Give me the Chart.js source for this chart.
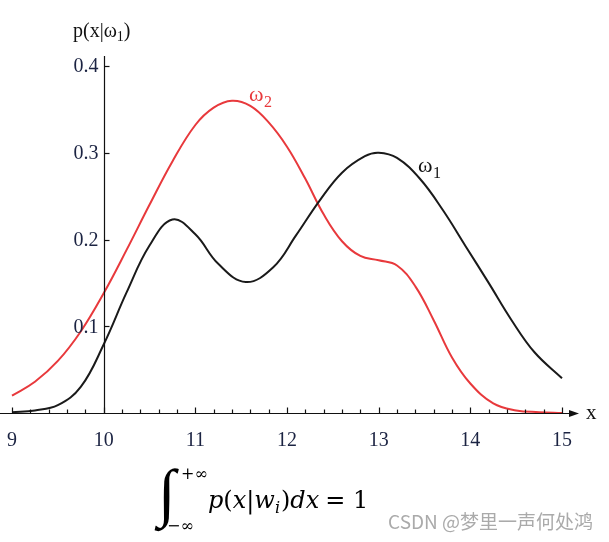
<!DOCTYPE html>
<html>
<head>
<meta charset="utf-8">
<script src="https://cdn.jsdelivr.net/npm/chart.js@4.4.0/dist/chart.umd.min.js"></script>
<style>
html,body{margin:0;padding:0;background:#fff;}
#wrap{width:609px;height:542px;}
</style>
</head>
<body>
<div id="wrap"><canvas id="c" width="609" height="542"></canvas></div>
<script>
// ---- data ----
const omega1X = [9.0, 9.25, 9.5, 9.75, 10.0, 10.25, 10.5, 10.75, 11.0, 11.25, 11.55, 11.85, 12.1, 12.35, 12.6, 12.85, 13.0, 13.2, 13.45, 13.7, 13.95, 14.2, 14.45, 14.7, 15.0];
const omega1Y = [0.001, 0.003, 0.009, 0.030, 0.079, 0.139, 0.193, 0.223, 0.206, 0.172, 0.151, 0.168, 0.205, 0.244, 0.277, 0.296, 0.300, 0.294, 0.270, 0.234, 0.192, 0.150, 0.107, 0.070, 0.040];
const omega2X = [9.0, 9.25, 9.5, 9.75, 10.0, 10.25, 10.5, 10.75, 11.0, 11.2, 11.4, 11.6, 11.8, 12.0, 12.2, 12.4, 12.6, 12.8, 13.0, 13.2, 13.4, 13.6, 13.8, 14.0, 14.25, 14.5, 14.75, 15.0];
const omega2Y = [0.020, 0.036, 0.060, 0.094, 0.138, 0.188, 0.240, 0.290, 0.332, 0.352, 0.360, 0.354, 0.335, 0.307, 0.270, 0.229, 0.198, 0.181, 0.176, 0.170, 0.146, 0.107, 0.064, 0.034, 0.011, 0.003, 0.001, 0.0];
const xTickValues = [9, 10, 11, 12, 13, 14, 15];
const xTickLabels = ['9', '10', '11', '12', '13', '14', '15'];
const yTickValues = [0.1, 0.2, 0.3, 0.4];
const yTickLabels = ['0.1', '0.2', '0.3', '0.4'];
const yAxisAt = 10;

function toPoints(xs, ys){ return xs.map((x,i)=>({x:x, y:ys[i]})); }

const TICK_COLOR = '#1b2342';
const SERIF = '"Liberation Serif", "DejaVu Serif", serif';
const MATH = '"DejaVu Serif", serif';

const axesPlugin = {
  id: 'mathAxes',
  afterDraw(chart){
    const ctx = chart.ctx;
    const xs = chart.scales.x, ys = chart.scales.y;
    const y0 = Math.round(ys.getPixelForValue(0)) + 0.5;
    const xA = Math.round(xs.getPixelForValue(yAxisAt)) + 0.5;
    ctx.save();
    ctx.strokeStyle = '#111';
    ctx.fillStyle = '#111';
    ctx.lineWidth = 1.2;
    // x axis line with arrow
    const xEnd = xs.getPixelForValue(15) + 15;
    ctx.beginPath(); ctx.moveTo(0, y0); ctx.lineTo(xEnd - 6, y0); ctx.stroke();
    ctx.beginPath(); ctx.moveTo(xEnd + 2, y0); ctx.lineTo(xEnd - 8, y0 - 3.5); ctx.lineTo(xEnd - 8, y0 + 3.5); ctx.closePath(); ctx.fill();
    // x minor/major ticks
    for (let k = 0; k <= 30; k++){
      const v = 9 + k * 0.2;
      const px = Math.round(xs.getPixelForValue(v)) + 0.5;
      const len = (k % 5 === 0) ? 6 : 4;
      ctx.beginPath(); ctx.moveTo(px, y0); ctx.lineTo(px, y0 - len); ctx.stroke();
    }
    // y axis line
    const yTop = ys.getPixelForValue(0.4115);
    ctx.beginPath(); ctx.moveTo(xA, y0); ctx.lineTo(xA, yTop); ctx.stroke();
    // y ticks
    yTickValues.forEach(v => {
      const py = Math.round(ys.getPixelForValue(v)) + 0.5;
      ctx.beginPath(); ctx.moveTo(xA, py); ctx.lineTo(xA + 5, py); ctx.stroke();
    });
    // tick labels
    ctx.fillStyle = TICK_COLOR;
    ctx.font = '20px ' + SERIF;
    ctx.textAlign = 'center'; ctx.textBaseline = 'alphabetic';
    xTickValues.forEach((v, i) => {
      ctx.fillText(xTickLabels[i], xs.getPixelForValue(v), y0 + 32);
    });
    ctx.textAlign = 'right'; ctx.textBaseline = 'middle';
    yTickValues.forEach((v, i) => {
      ctx.fillText(yTickLabels[i], xA - 6, ys.getPixelForValue(v) + 1);
    });
    // axis titles
    ctx.fillStyle = '#111';
    ctx.textAlign = 'left'; ctx.textBaseline = 'alphabetic';
    ctx.font = '21px ' + SERIF;
    ctx.fillText('x', xEnd + 9, y0 + 5);
    // y title p(x|ω1)
    let tx = 73; const tb = 37;
    ctx.font = '20px ' + SERIF;
    ctx.fillText('p(x|ω', tx, tb); tx += ctx.measureText('p(x|ω').width;
    ctx.font = '14px ' + SERIF;
    ctx.fillText('1', tx, tb + 4); tx += ctx.measureText('1').width;
    ctx.font = '20px ' + SERIF;
    ctx.fillText(')', tx, tb);
    // curve labels
    ctx.fillStyle = '#e8393c';
    ctx.font = '22px ' + SERIF;
    ctx.fillText('ω', 249, 101);
    ctx.font = '16px ' + SERIF;
    ctx.fillText('2', 264, 107);
    ctx.fillStyle = '#111';
    ctx.font = '22px ' + SERIF;
    ctx.fillText('ω', 418, 172);
    ctx.font = '16px ' + SERIF;
    ctx.fillText('1', 433, 178);
    // formula
    ctx.fillStyle = '#000';
    ctx.font = 'italic 64px "Liberation Serif", serif';
    ctx.fillText('∫', 158, 514);
    ctx.font = '16px ' + MATH;
    ctx.fillText('+∞', 181, 479);
    ctx.fillText('−∞', 167, 531);
    let fx = 208; const fb = 508;
    const FS = 24;
    ctx.font = 'italic ' + FS + 'px ' + MATH;
    ctx.fillText('p', fx, fb); fx += ctx.measureText('p').width;
    ctx.font = FS + 'px ' + MATH;
    ctx.fillText('(', fx, fb); fx += ctx.measureText('(').width;
    ctx.font = 'italic ' + FS + 'px ' + MATH;
    ctx.fillText('x', fx, fb); fx += ctx.measureText('x').width;
    ctx.font = FS + 'px ' + MATH;
    ctx.fillText('|', fx, fb); fx += ctx.measureText('|').width;
    ctx.font = 'italic ' + FS + 'px ' + MATH;
    ctx.fillText('w', fx, fb); fx += ctx.measureText('w').width;
    ctx.font = 'italic 16px ' + MATH;
    ctx.fillText('i', fx, fb + 5); fx += ctx.measureText('i').width + 1;
    ctx.font = FS + 'px ' + MATH;
    ctx.fillText(')', fx, fb); fx += ctx.measureText(')').width;
    ctx.font = 'italic ' + FS + 'px ' + MATH;
    ctx.fillText('dx', fx, fb); fx += ctx.measureText('dx').width + 6;
    ctx.font = FS + 'px ' + MATH;
    ctx.fillText('= 1', fx, fb);
    // watermark
    ctx.fillStyle = '#aaaaaa';
    ctx.font = '19px "Noto Sans CJK SC", "Noto Sans", sans-serif';
    ctx.textAlign = 'right';
    ctx.fillText('CSDN @梦里一声何处鸿', 593, 529);
    ctx.restore();
  }
};

new Chart(document.getElementById('c'), {
  type: 'scatter',
  data: {
    datasets: [
      { label: 'ω1', data: toPoints(omega1X, omega1Y), showLine: true, borderColor: '#1a1a1a', borderWidth: 2, pointRadius: 0, tension: 0.4, clip: false },
      { label: 'ω2', data: toPoints(omega2X, omega2Y), showLine: true, borderColor: '#e8393c', borderWidth: 2, pointRadius: 0, tension: 0.4, clip: false }
    ]
  },
  options: {
    responsive: false,
    animation: false,
    devicePixelRatio: 1,
    layout: { padding: { left: 12, right: 47, top: 66, bottom: 129 } },
    plugins: { legend: { display: false }, tooltip: { enabled: false } },
    scales: {
      x: { type: 'linear', min: 9, max: 15, display: false },
      y: { type: 'linear', min: 0, max: 0.4, display: false }
    }
  },
  plugins: [axesPlugin]
});
</script>
</body>
</html>
